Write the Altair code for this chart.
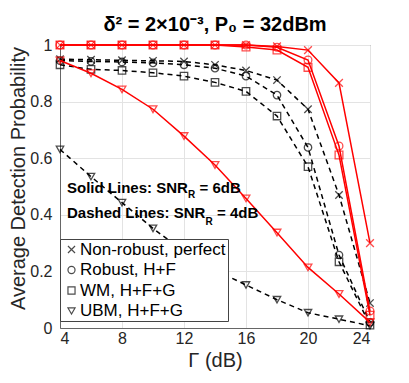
import altair as alt
import pandas as pd

gamma = [4, 6, 8, 10, 12, 14, 16, 18, 20, 22, 24]
schemes = ["Non-robust, perfect", "Robust, H+F", "WM, H+F+G", "UBM, H+F+G"]

# Solid lines, SNR_R = 6 dB
nr6 = [1.0, 1.0, 1.0, 1.0, 1.0, 1.0, 1.0, 0.995, 0.982, 0.866, 0.30]
rb6 = [1.0, 1.0, 1.0, 1.0, 1.0, 1.0, 1.0, 0.992, 0.947, 0.643, 0.06]
wm6 = [1.0, 1.0, 1.0, 1.0, 1.0, 1.0, 0.993, 0.982, 0.921, 0.611, 0.045]
ubm6 = [0.945, 0.90, 0.843, 0.773, 0.678, 0.576, 0.458, 0.337, 0.214, 0.12, 0.02]

# Dashed lines, SNR_R = 4 dB
nr4 = [0.95, 0.948, 0.946, 0.944, 0.942, 0.93, 0.91, 0.876, 0.773, 0.47, 0.088]
rb4 = [0.945, 0.942, 0.94, 0.937, 0.93, 0.918, 0.89, 0.823, 0.638, 0.258, 0.02]
wm4 = [0.93, 0.914, 0.91, 0.902, 0.89, 0.868, 0.836, 0.749, 0.57, 0.234, 0.01]
ubm4 = [0.631, 0.535, 0.443, 0.352, 0.27, 0.205, 0.152, 0.10, 0.054, 0.031, 0.008]

x_ticks = [4, 8, 12, 16, 20, 24]
y_ticks = [0, 0.2, 0.4, 0.6, 0.8, 1]

def frame(series_list):
    rows = []
    for name, vals in zip(schemes, series_list):
        for g, v in zip(gamma, vals):
            rows.append({"gamma": g, "p": v, "scheme": name})
    return pd.DataFrame(rows)

df6 = frame([nr6, rb6, wm6, ubm6])
df4 = frame([nr4, rb4, wm4, ubm4])

FONT = "Liberation Sans"
xpath = "M-1,-1L1,1M-1,1L1,-1"

xenc = alt.X("gamma:Q", scale=alt.Scale(domain=[4, 24], nice=False),
             axis=alt.Axis(values=x_ticks, title="Γ (dB)", format="d"))
yenc = alt.Y("p:Q", scale=alt.Scale(domain=[0, 1], nice=False),
             axis=alt.Axis(values=y_ticks, title="Average Detection Probability",
                           format="~g", titleX=-42, titleY=133,
                           titleBaseline="middle"))
shape_enc = alt.Shape("scheme:N",
                      scale=alt.Scale(domain=schemes,
                                      range=[xpath, "circle", "square", "triangle-down"]),
                      legend=alt.Legend(title=None, orient="none", legendX=0, legendY=194,
                                        fillColor="white", strokeColor="#444",
                                        padding=2, labelFontSize=17, labelFont=FONT,
                                        rowPadding=2.5, symbolStrokeColor="black",
                                        symbolFillColor="transparent", symbolSize=50,
                                        symbolStrokeWidth=1.2, labelOffset=0,
                                        symbolOffset=1, labelColor="black"))

line4 = alt.Chart(df4).mark_line(color="black", strokeWidth=1.5, strokeDash=[5, 4]).encode(
    x=xenc, y=yenc, detail="scheme:N")
pts4 = alt.Chart(df4).mark_point(color="black", filled=False, size=55, strokeWidth=1.3).encode(
    x="gamma:Q", y="p:Q", shape=shape_enc)
line6 = alt.Chart(df6).mark_line(color="#ff0000", strokeWidth=1.5).encode(
    x="gamma:Q", y="p:Q", detail="scheme:N")
pts6 = alt.Chart(df6).mark_point(color="#ff0000", filled=False, size=60, strokeWidth=1.3).encode(
    x="gamma:Q", y="p:Q", shape=alt.Shape("scheme:N", legend=None))

one = alt.Data(values=[{"a": 1}])

def txt(t, x, y, size):
    return alt.Chart(one).mark_text(text=t, font=FONT, fontWeight="bold", fontSize=size,
                                    align="left", baseline="alphabetic", color="black").encode(
        x=alt.value(x), y=alt.value(y))

ann = [
    txt("Solid Lines: SNR", 7, 148, 15),
    txt("R", 128, 153, 10),
    txt("= 6dB", 139.5, 148, 15),
    txt("Dashed Lines: SNR", 7, 173, 15),
    txt("R", 145.5, 180, 10),
    txt("= 4dB", 157, 173, 15),
]

chart = alt.layer(line4, pts4, line6, pts6, *ann).properties(
    width=310, height=283,
    title=alt.TitleParams("δ² = 2×10⁻³, P₀ = 32dBm", font=FONT, fontSize=20,
                          fontWeight="bold", anchor="middle", offset=2,
                          color="black"),
    autosize=alt.AutoSizeParams(type="none"),
    padding={"left": 52, "top": 37, "right": 24, "bottom": 47},
).configure_view(stroke="#666", strokeWidth=1).configure_axis(
    labelFont=FONT, labelFontSize=16, labelColor="#262626",
    titleFont=FONT, titleFontSize=20, titleFontWeight="normal", titleColor="#262626",
    grid=True, gridColor="#e3e3e3", domainColor="#666", tickSize=0, labelPadding=8,
).configure_axisX(labelPadding=2, titleBaseline="alphabetic", titleY=38)

chart.save("out.html", embed_options={"renderer": "svg", "actions": False})
